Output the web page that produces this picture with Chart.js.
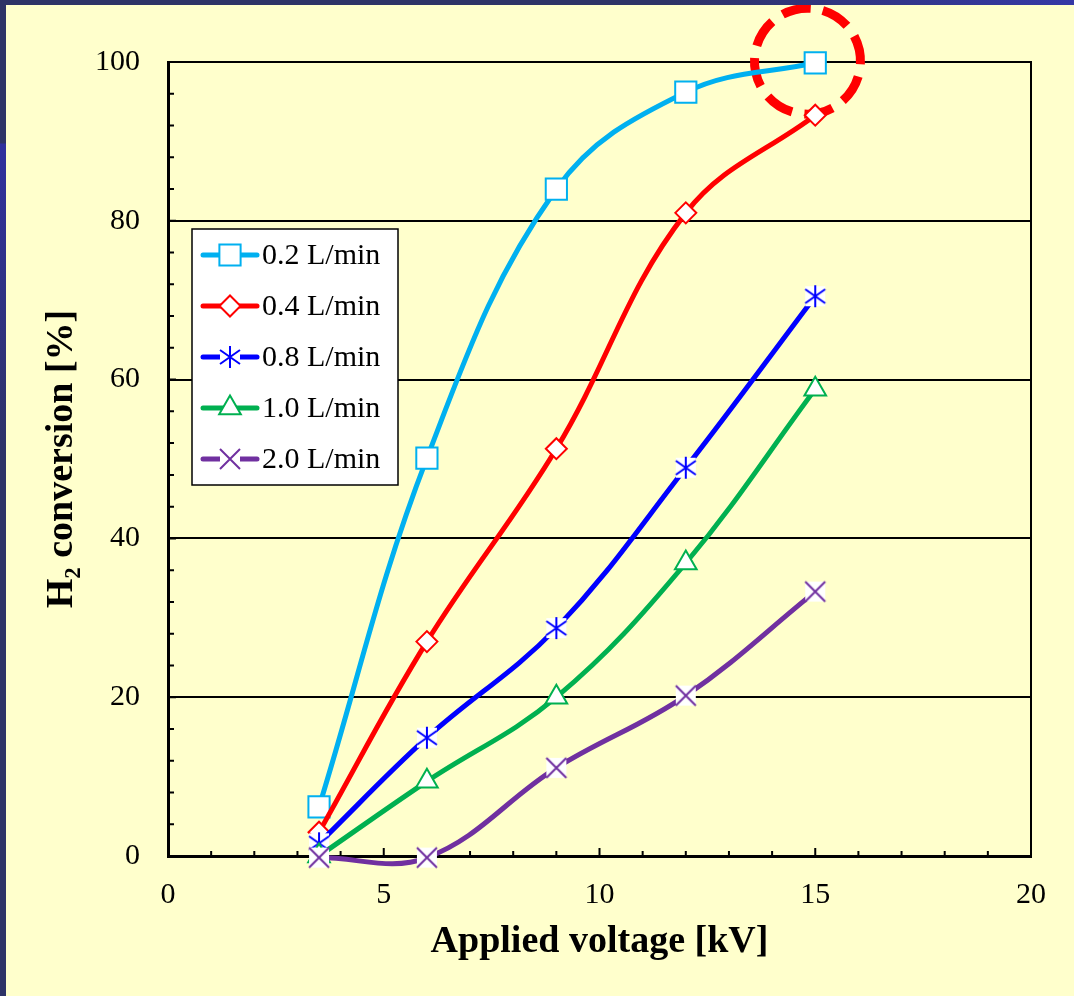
<!DOCTYPE html>
<html>
<head>
<meta charset="utf-8">
<script src="https://cdn.jsdelivr.net/npm/chart.js@4.4.0/dist/chart.umd.min.js"></script>
<style>
  html, body { margin: 0; padding: 0; background: #ffffcc; }
  #wrap { position: relative; width: 1074px; height: 996px; background: #ffffcc; overflow: hidden; }
  #topbar { position: absolute; left: 0; top: 0; width: 1074px; height: 5px; z-index: 2;
    background: linear-gradient(90deg, #2e3366 0%, #2e3366 62%, #3538a6 100%); }
  #leftbar { position: absolute; left: 0; top: 0; width: 6px; height: 996px; z-index: 2;
    background: linear-gradient(180deg, #2e3366 0px, #2e3366 143px, #30309e 144px, #2e3366 460px, #2e3366 100%); }
  canvas { position: absolute; left: 0; top: 0; }
</style>
</head>
<body>
<div id="wrap">
  <canvas id="chart" width="1074" height="996"></canvas>
  <div id="topbar"></div>
  <div id="leftbar"></div>
</div>
<script>
// applied voltage [kV]
const voltage = [3.5, 6, 9, 12, 15];
// H2 conversion [%] for each flow rate
const flow02 = [6.2, 50.1, 84.0, 96.2, 99.9];
const flow04 = [3.0, 27.0, 51.3, 81.0, 93.3];
const flow08 = [1.6, 14.9, 28.7, 48.9, 70.5];
const flow10 = [0.0, 9.4, 20.0, 36.9, 58.8];
const flow20 = [-0.2, -0.2, 11.1, 20.2, 33.3];
const seriesLabels = ['0.2 L/min', '0.4 L/min', '0.8 L/min', '1.0 L/min', '2.0 L/min'];
const xTickLabels = ['0', '5', '10', '15', '20'];
const yTickLabels = ['0', '20', '40', '60', '80', '100'];
const highlightPoint = [14.82, 100.1];

const FONT = '"Liberation Serif", "Times New Roman", serif';

function makeMarker(kind, color) {
  const c = document.createElement('canvas');
  c.width = 24; c.height = 24;
  const g = c.getContext('2d');
  g.fillStyle = '#ffffff';
  g.fillRect(2, 2, 20, 20);
  g.strokeStyle = color;
  g.lineWidth = 2;
  g.beginPath();
  if (kind === 'star') {
    g.moveTo(12, 1); g.lineTo(12, 23);
    g.moveTo(2, 5); g.lineTo(22, 19);
    g.moveTo(2, 19); g.lineTo(22, 5);
  } else {
    g.moveTo(2, 2); g.lineTo(22, 22);
    g.moveTo(2, 22); g.lineTo(22, 2);
  }
  g.stroke();
  return c;
}

const colors = ['#00b0f0', '#ff0000', '#0000ff', '#00b050', '#7030a0'];
const styles = ['rect', 'rectRot', makeMarker('star', '#0000ff'), 'triangle', makeMarker('cross', '#7030a0')];
const radii = [15, 10.5, 12, 12.5, 12];
const values = [flow02, flow04, flow08, flow10, flow20];

const datasets = values.map((vals, i) => ({
  label: seriesLabels[i],
  data: voltage.map((v, j) => ({ x: v, y: vals[j] })),
  borderColor: colors[i],
  backgroundColor: colors[i],
  borderWidth: 5,
  tension: 0.38,
  pointStyle: styles[i],
  pointRadius: radii[i],
  pointHoverRadius: radii[i],
  pointBackgroundColor: '#ffffff',
  pointBorderColor: colors[i],
  pointBorderWidth: 2,
  clip: false,
  order: values.length - i
}));

const framePlugin = {
  id: 'frame',
  beforeDatasetsDraw(chart) {
    const { ctx, chartArea: a, scales: { x, y } } = chart;
    ctx.save();
    ctx.strokeStyle = '#000';
    ctx.lineWidth = 2;
    ctx.beginPath();
    ctx.moveTo(a.left, a.top); ctx.lineTo(a.right, a.top); ctx.lineTo(a.right, a.bottom);
    ctx.stroke();
    // inward ticks
    ctx.beginPath();
    for (let v = 0; v <= 20; v += 1) {
      const px = x.getPixelForValue(v);
      const len = v % 5 === 0 ? 8 : 5;
      ctx.moveTo(px, a.bottom); ctx.lineTo(px, a.bottom - len);
    }
    for (let v = 0; v <= 100; v += 4) {
      const py = y.getPixelForValue(v);
      const len = v % 20 === 0 ? 8 : 6;
      ctx.moveTo(a.left, py); ctx.lineTo(a.left + len, py);
    }
    ctx.stroke();
    // dashed highlight circle
    const cx = x.getPixelForValue(highlightPoint[0]);
    const cy = y.getPixelForValue(highlightPoint[1]);
    ctx.strokeStyle = '#ff0000';
    ctx.lineWidth = 9;
    ctx.setLineDash([29, 12.6]);
    ctx.beginPath();
    const start = -73.25 * Math.PI / 180;
    ctx.arc(cx, cy, 53, start, start + Math.PI * 2);
    ctx.stroke();
    ctx.restore();
  }
};

const legendPlugin = {
  id: 'boxLegend',
  afterDatasetsDraw(chart) {
    const { ctx, chartArea: a } = chart;
    const left = a.left + 24, top = a.top + 167, w = 206, h = 256;
    ctx.save();
    ctx.fillStyle = '#ffffff';
    ctx.fillRect(left, top, w, h);
    ctx.strokeStyle = '#000';
    ctx.lineWidth = 1.5;
    ctx.strokeRect(left, top, w, h);
    chart.data.datasets.forEach((ds, i) => {
      const cy = top + 26 + i * 51;
      ctx.strokeStyle = ds.borderColor;
      ctx.lineWidth = 5;
      ctx.lineCap = 'round';
      ctx.beginPath();
      ctx.moveTo(left + 11, cy); ctx.lineTo(left + 65, cy);
      ctx.stroke();
      ctx.lineCap = 'butt';
      ctx.fillStyle = '#ffffff';
      ctx.lineWidth = 2;
      Chart.helpers.drawPoint(ctx, { pointStyle: ds.pointStyle, radius: ds.pointRadius, rotation: 0, borderWidth: 2 }, left + 38, cy);
      ctx.fillStyle = '#000';
      ctx.font = '30px ' + FONT;
      ctx.textBaseline = 'middle';
      ctx.textAlign = 'left';
      ctx.fillText(ds.label, left + 70, cy + 1);
    });
    ctx.restore();
  }
};

new Chart(document.getElementById('chart'), {
  type: 'line',
  data: { datasets },
  plugins: [framePlugin, legendPlugin],
  options: {
    responsive: false,
    animation: false,
    devicePixelRatio: 1,
    capBezierPoints: false,
    layout: { padding: { left: 0, top: 62, right: 43, bottom: 0 } },
    plugins: { legend: { display: false }, tooltip: { enabled: false } },
    scales: {
      x: {
        type: 'linear',
        min: 0, max: 20,
        afterFit(scale) { scale.height = 140; },
        afterBuildTicks(scale) { scale.ticks = xTickLabels.map(t => ({ value: Number(t) })); },
        ticks: { color: '#000', font: { family: FONT, size: 30 }, padding: 21, maxRotation: 0,
          callback: (v) => String(v) },
        grid: { display: false, drawTicks: false },
        border: { display: true, color: '#000', width: 3 },
        title: { display: true, text: 'Applied voltage [kV]', color: '#000',
          font: { family: FONT, size: 38, weight: 'bold' }, padding: { top: 0, bottom: 31 } }
      },
      y: {
        min: 0, max: 100,
        afterFit(scale) { scale.width = 168; },
        afterBuildTicks(scale) { scale.ticks = yTickLabels.map(t => ({ value: Number(t) })); },
        ticks: { color: '#000', font: { family: FONT, size: 30 }, padding: 28,
          callback: (v) => String(v) },
        grid: { color: '#000', lineWidth: 2, drawTicks: false },
        border: { display: true, color: '#000', width: 3 },
        title: { display: true, text: 'H₂ conversion [%]', color: '#000',
          font: { family: FONT, size: 38, weight: 'bold' }, padding: { top: 39, bottom: 0 } }
      }
    }
  }
});
</script>
</body>
</html>
